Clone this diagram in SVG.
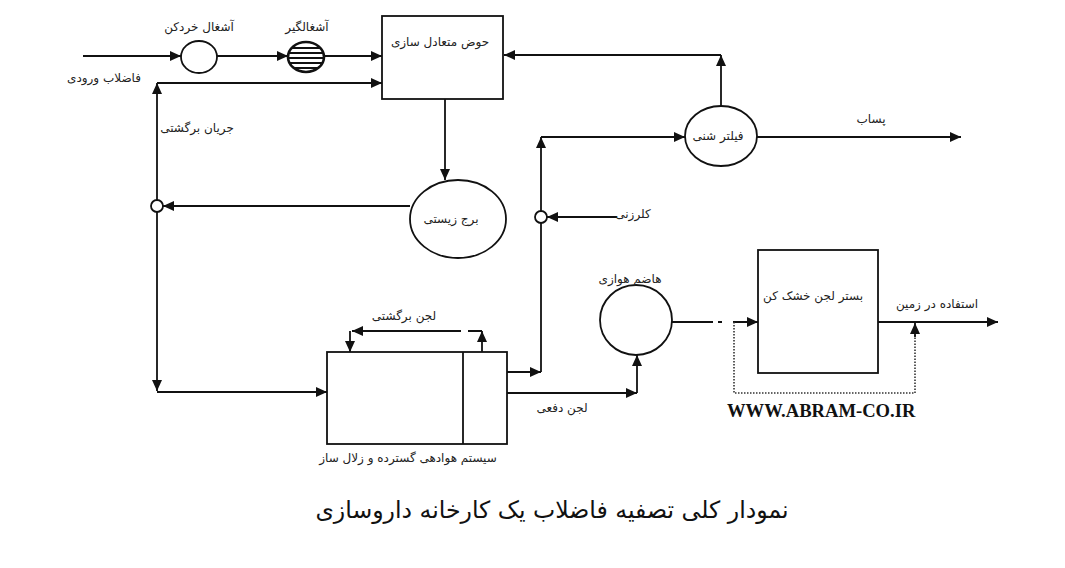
<svg xmlns="http://www.w3.org/2000/svg" width="1065" height="568" viewBox="0 0 1065 568">
<style>
.ln{fill:none;stroke:#111;stroke-width:1.8}
.nd{fill:#fff;stroke:#111;stroke-width:1.8}
.dot{fill:none;stroke:#333;stroke-width:1.6;stroke-dasharray:1.5 1.5}
.lb{font-family:"DejaVu Sans",sans-serif;font-size:12px;fill:#222;text-anchor:middle}
.ttl{font-family:"DejaVu Sans",sans-serif;font-size:23.6px;fill:#111;text-anchor:middle}
.www{font-family:"Liberation Serif",serif;font-weight:bold;font-size:18.6px;fill:#111}
</style>
<defs>
<marker id="a" markerUnits="userSpaceOnUse" markerWidth="12" markerHeight="10" refX="11" refY="5" orient="auto">
<path d="M0,0 L11,5 L0,10 z" fill="#111"/>
</marker>
<clipPath id="sc"><ellipse cx="306" cy="57" rx="18" ry="15"/></clipPath>
</defs>
<rect width="1065" height="568" fill="#fff"/>

<g id="connectors">
<path class="ln" d="M83,56 H181" marker-end="url(#a)"/>
<path class="ln" d="M217,56 H288" marker-end="url(#a)"/>
<path class="ln" d="M324,56 H382" marker-end="url(#a)"/>
<path class="ln" d="M157,200 V83" marker-end="url(#a)"/>
<path class="ln" d="M157,83 H382" marker-end="url(#a)"/>
<path class="ln" d="M445,99 V180" marker-end="url(#a)"/>
<path class="ln" d="M410,206 H163" marker-end="url(#a)"/>
<path class="ln" d="M157,212 V391" marker-end="url(#a)"/>
<path class="ln" d="M157,392 H327" marker-end="url(#a)"/>
<path class="ln" d="M482,352 V331" marker-end="url(#a)"/>
<path class="ln" d="M482,331 H468 M461,331 H352" marker-end="url(#a)"/>
<path class="ln" d="M350,331 V352" marker-end="url(#a)"/>
<path class="ln" d="M507,372 H541" marker-end="url(#a)"/>
<path class="ln" d="M541,372 V223"/>
<path class="ln" d="M541,211 V137" marker-end="url(#a)"/>
<path class="ln" d="M541,137 H685" marker-end="url(#a)"/>
<path class="ln" d="M617,217 H547" marker-end="url(#a)"/>
<path class="ln" d="M721,106 V55" marker-end="url(#a)"/>
<path class="ln" d="M721,55 H504" marker-end="url(#a)"/>
<path class="ln" d="M757,137 H961" marker-end="url(#a)"/>
<path class="ln" d="M507,393 H637" marker-end="url(#a)"/>
<path class="ln" d="M637,393 V355" marker-end="url(#a)"/>
<path class="ln" d="M672,322 H713 M718,322 H722 M733,322 H758" marker-end="url(#a)"/>
<path class="ln" d="M878,322 H998" marker-end="url(#a)"/>
<path class="dot" d="M734,322 V393 H915 V335"/>
<path class="ln" d="M915,337 V323" marker-end="url(#a)"/>
</g>

<g id="shredder">
<ellipse class="nd" cx="199" cy="57" rx="18" ry="16"/>
<text class="lb" x="199" y="31">آشغال خردکن</text>
</g>
<g id="screen">
<ellipse cx="306" cy="57" rx="18" ry="15" fill="#fff"/>
<g clip-path="url(#sc)" stroke="#111" stroke-width="1.8">
<line x1="286" y1="48" x2="326" y2="48"/>
<line x1="286" y1="53" x2="326" y2="53"/>
<line x1="286" y1="58" x2="326" y2="58"/>
<line x1="286" y1="63" x2="326" y2="63"/>
<line x1="286" y1="68" x2="326" y2="68"/>
</g>
<ellipse cx="306" cy="57" rx="18" ry="15" fill="none" stroke="#111" stroke-width="2.6"/>
<text class="lb" x="307" y="31">آشغالگیر</text>
</g>
<g id="equalization">
<rect class="nd" x="382" y="16" width="121" height="83"/>
<text class="lb" x="440" y="46">حوض متعادل سازی</text>
</g>
<g id="inlet-label"><text class="lb" x="104" y="82">فاضلاب ورودی</text></g>
<g id="return-label"><text class="lb" x="197" y="132">جریان برگشتی</text></g>
<g id="junction1"><circle class="nd" cx="157" cy="206" r="6"/></g>
<g id="biotower">
<ellipse class="nd" cx="458" cy="219" rx="48" ry="39"/>
<text class="lb" x="451" y="223">برج زیستی</text>
</g>
<g id="aeration">
<rect class="nd" x="327" y="352" width="180" height="92"/>
<line class="ln" x1="463" y1="352" x2="463" y2="444"/>
<text class="lb" x="408" y="462">سیستم هوادهی گسترده و زلال ساز</text>
</g>
<g id="return-sludge-label"><text class="lb" x="404" y="320">لجن برگشتی</text></g>
<g id="waste-sludge-label"><text class="lb" x="562" y="412">لجن دفعی</text></g>
<g id="junction2"><circle class="nd" cx="541" cy="217" r="6"/></g>
<g id="chlorination-label"><text class="lb" x="633" y="218">کلرزنی</text></g>
<g id="sandfilter">
<ellipse class="nd" cx="721" cy="136" rx="36" ry="30"/>
<text class="lb" x="718" y="140">فیلتر شنی</text>
</g>
<g id="effluent-label"><text class="lb" x="871" y="123">پساب</text></g>
<g id="digester">
<ellipse class="nd" cx="636" cy="320" rx="36" ry="35"/>
<text class="lb" x="630" y="283">هاضم هوازی</text>
</g>
<g id="dryingbed">
<rect class="nd" x="758" y="250" width="120" height="123"/>
<text class="lb" x="813" y="300">بستر لجن خشک کن</text>
</g>
<g id="land-label"><text class="lb" x="937" y="308">استفاده در زمین</text></g>
<text class="www" x="727" y="417">WWW.ABRAM-CO.IR</text>
<text class="ttl" x="552" y="518">نمودار کلی تصفیه فاضلاب یک کارخانه داروسازی</text>
</svg>
